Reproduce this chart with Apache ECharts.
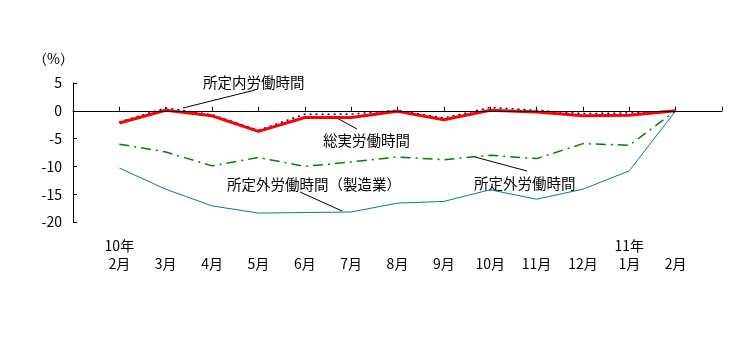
<!DOCTYPE html>
<html lang="ja">
<head>
    <meta charset="UTF-8">
    <title>労働時間 前年同月比</title>
    <script src="https://cdn.jsdelivr.net/npm/echarts@6/dist/echarts.min.js"></script>
    <style>
        html, body { margin: 0; padding: 0; background: #fff; }
        #chart { width: 746px; height: 351px; }
    </style>
</head>
<body>
    <div id="chart"></div>
    <script>
        // 10年2月 〜 11年2月
        const months = ["2月", "3月", "4月", "5月", "6月", "7月", "8月", "9月", "10月", "11月", "12月", "1月", "2月"]
        const years = ["10年", "", "", "", "", "", "", "", "", "", "", "11年", ""]

        // 前年同月比（%）
        const totalHours = [-2.2, 0.1, -0.9, -3.7, -1.2, -1.2, -0.1, -1.6, 0.1, -0.2, -0.9, -0.8, 0]
        const scheduledHours = [-2.0, 0.5, -0.7, -3.5, -0.6, -0.6, 0.1, -1.3, 0.6, 0.1, -0.5, -0.4, 0]
        const overtimeHours = [-6.0, -7.4, -9.9, -8.4, -10.0, -9.2, -8.3, -8.8, -8.0, -8.6, -5.9, -6.2, 0]
        const overtimeMfg = [-10.3, -14.1, -17.1, -18.4, -18.3, -18.2, -16.6, -16.3, -14.2, -15.9, -14.1, -10.8, 0]

        const yTicks = { min: -20, max: 5, step: 5 }

        const font = "'MS Gothic', 'Noto Sans CJK JP', sans-serif"

        // 両端に空きのカテゴリを置く
        const categories = [""].concat(months.map((m, i) => years[i] + "\n" + m), [""])
        const pad = arr => [null].concat(arr, [null])

        const chart = echarts.init(document.getElementById("chart"), null, { renderer: "canvas" })

        const noteText = (left, top, text) => ({
            type: "text", left, top,
            style: { text, font: "14.5px " + font, fill: "#000" }
        })
        const noteLine = (x1, y1, x2, y2) => ({
            type: "line",
            shape: { x1, y1, x2, y2 },
            style: { stroke: "#000", lineWidth: 1 }
        })

        chart.setOption({
            animation: false,
            grid: { left: 73, right: 24, top: 83, bottom: 129 },
            xAxis: {
                type: "category",
                data: categories,
                boundaryGap: false,
                axisLine: { lineStyle: { color: "#000", width: 1 } },
                axisTick: { inside: true, length: 4, lineStyle: { color: "#000" }, interval: 0 },
                axisLabel: {
                    interval: 0, color: "#000", fontSize: 14, fontFamily: font,
                    lineHeight: 18, margin: 15
                },
                splitLine: { show: false }
            },
            yAxis: {
                type: "value",
                min: yTicks.min, max: yTicks.max, interval: yTicks.step,
                axisLine: { show: true, lineStyle: { color: "#000", width: 1 } },
                axisTick: { show: true, inside: true, length: 4, lineStyle: { color: "#000" } },
                axisLabel: { color: "#000", fontSize: 14, fontFamily: font, margin: 11 },
                splitLine: { show: false }
            },
            series: [
                {
                    name: "所定外労働時間（製造業）", type: "line", data: pad(overtimeMfg),
                    symbol: "none", lineStyle: { color: "#008080", width: 1 },
                    markLine: {
                        silent: true, symbol: "none", label: { show: false },
                        lineStyle: { color: "#000", width: 1, type: "solid" },
                        data: [{ yAxis: 0 }]
                    }
                },
                {
                    name: "所定外労働時間", type: "line", data: pad(overtimeHours),
                    symbol: "none",
                    lineStyle: { color: "#008000", width: 1.5, type: [10, 5, 2, 5] }
                },
                {
                    name: "所定内労働時間", type: "line", data: pad(scheduledHours),
                    symbol: "none",
                    lineStyle: { color: "#000080", width: 1.5, type: [2, 4] }
                },
                {
                    name: "総実労働時間", type: "line", data: pad(totalHours),
                    symbol: "none", lineStyle: { color: "#ff0000", width: 3 }
                }
            ],
            graphic: [
                { type: "text", left: 33, top: 52, style: { text: "（%）", font: "14px " + font, fill: "#000" } },
                noteText(203, 75, "所定内労働時間"),
                noteLine(255, 90, 183, 108),
                noteText(323, 133, "総実労働時間"),
                noteLine(335, 117, 357, 129),
                noteText(227, 177, "所定外労働時間（製造業）"),
                noteLine(300, 192, 342, 211),
                noteText(474, 176, "所定外労働時間"),
                noteLine(475, 157, 527, 171)
            ]
        })
    </script>
</body>
</html>
